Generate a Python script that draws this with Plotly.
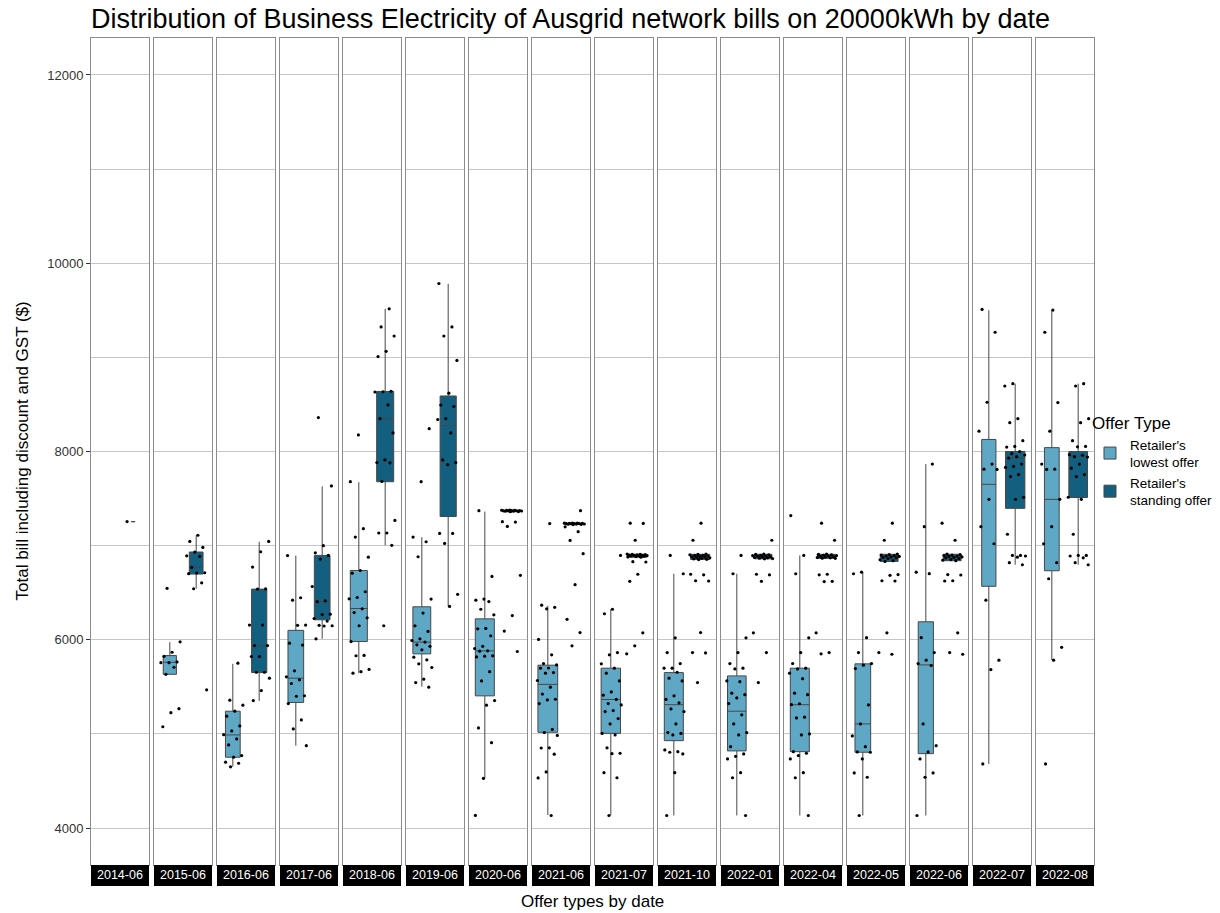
import math
import plotly.graph_objects as go
from plotly.subplots import make_subplots

# Facet labels (offer dates)
dates = ["2014-06", "2015-06", "2016-06", "2017-06", "2018-06", "2019-06",
         "2020-06", "2021-06", "2021-07", "2021-10", "2022-01", "2022-04",
         "2022-05", "2022-06", "2022-07", "2022-08"]

# Box statistics for "Retailer's lowest offer" (None where no offers exist)
lowest_lo = [None, 5633, 4652, 4875, 5645, 5502, 4527, 4138, 4133, 4133, 4133, 4133, 4133, 4133, 4681, 5783]
lowest_q1 = [None, 5633, 4752, 5334, 5981, 5850, 5404, 5017, 5005, 4928, 4819, 4811, 4805, 4790, 6568, 6733]
lowest_med = [None, 5761, 4989, 5592, 6332, 5975, 5882, 5526, 5366, 5310, 5241, 5310, 5106, 5733, 7651, 7492]
lowest_q3 = [None, 5832, 5241, 6100, 6736, 6350, 6222, 5730, 5698, 5651, 5616, 5698, 5744, 6191, 8128, 8041]
lowest_hi = [None, 5974, 5744, 6894, 7674, 7090, 7362, 6361, 6324, 6701, 6701, 6896, 6718, 7866, 9500, 9500]

# Box statistics for "Retailer's standing offer"
standing_lo = [7255, 6542, 5350, 6010, 7003, 6354, 7360, 7222, 6874, 6848, 6855, 6860, 6826, 6836, 6797, 6797]
standing_q1 = [7255, 6698, 5651, 6212, 7679, 7309, 7365, 7226, 6877, 6852, 6860, 6865, 6832, 6840, 7396, 7511]
standing_med = [7255, 6768, 5938, 6405, 8349, 8275, 7371, 7233, 6895, 6882, 6885, 6885, 6880, 6882, 7928, 7950]
standing_q3 = [7255, 6932, 6538, 6896, 8638, 8590, 7376, 7238, 6908, 6908, 6908, 6908, 6908, 6908, 8000, 8000]
standing_hi = [7255, 7108, 7041, 7630, 9516, 9782, 7380, 7242, 6912, 6912, 6912, 6912, 6912, 6912, 8721, 8721]

# Individual bills ($) per date, lowest offers
lowest_bills = [
    [],
    [6546, 5978, 5867, 5824, 5764, 5757, 5757, 5708, 5633, 5268, 5225, 5076],
    [5751, 5358, 5305, 5241, 5188, 5085, 5031, 4992, 4946, 4883, 4769, 4752, 4699, 4688, 4650],
    [6894, 6446, 6421, 6156, 6153, 5964, 5943, 5670, 5606, 5574, 5535, 5405, 5400, 5322, 5148, 5053, 4875],
    [8176, 7679, 7180, 7091, 6877, 6736, 6707, 6510, 6449, 6435, 6329, 6289, 6233, 6149, 5981, 5834,
     5830, 5685, 5661, 5645],
    [8243, 7679, 7091, 7041, 6882, 6432, 6283, 6148, 6088, 6010, 5992, 5975, 5946, 5930, 5893, 5815,
     5787, 5744, 5705, 5581, 5545, 5496],
    [7371, 6673, 6432, 6420, 6406, 6324, 6265, 6120, 6116, 6042, 5930, 5907, 5882, 5879, 5829, 5826,
     5818, 5661, 5563, 5354, 5305, 5063, 4907, 4527, 4134],
    [7234, 6367, 6345, 6329, 6003, 5840, 5747, 5733, 5700, 5698, 5651, 5645, 5567, 5496, 5423, 5368,
     5361, 5322, 5047, 5014, 4984, 4852, 4850, 4784, 4596, 4532, 4133],
    [6896, 6324, 6276, 5864, 5840, 5744, 5698, 5645, 5563, 5446, 5411, 5366, 5322, 5308, 5248, 5237,
     5163, 5106, 5005, 4989, 4852, 4794, 4790, 4588, 4534, 4133],
    [6896, 6701, 6020, 5864, 5747, 5698, 5698, 5655, 5592, 5563, 5404, 5366, 5330, 5265, 5237, 5106,
     5014, 5005, 4989, 4830, 4811, 4805, 4787, 4588, 4133],
    [6896, 6701, 6020, 5864, 5747, 5698, 5690, 5563, 5555, 5432, 5416, 5382, 5322, 5202, 5106, 5014,
     4989, 4864, 4787, 4762, 4734, 4588, 4534, 4133],
    [7319, 6896, 6701, 6020, 5864, 5747, 5698, 5690, 5645, 5587, 5432, 5416, 5320, 5310, 5178, 5170,
     5000, 4989, 4811, 4794, 4770, 4734, 4588, 4534, 4133],
    [6718, 6701, 6022, 5864, 5747, 5730, 5694, 5308, 5106, 4978, 4864, 4808, 4805, 4734, 4585, 4539, 4133],
    [7866, 7201, 6718, 6702, 6022, 5864, 5783, 5747, 5726, 5106, 4875, 4808, 4734, 4585, 4539, 4133],
    [9509, 9267, 8523, 8216, 7866, 7812, 7810, 7492, 7201, 7020, 6421, 5783, 5683, 4681],
    [9503, 9267, 8520, 8216, 7866, 7812, 7810, 7492, 7201, 7020, 6819, 6648, 5920, 5783, 4681],
]

# Individual bills ($) per date, standing offers
standing_bills = [
    [7255],
    [7110, 7045, 6981, 6932, 6892, 6885, 6768, 6712, 6709, 6702, 6605, 6542, 5468],
    [7045, 6935, 6772, 6540, 6538, 6156, 6156, 5938, 5938, 5822, 5822, 5655, 5655, 5592, 5460, 5354],
    [8360, 7634, 6999, 6924, 6896, 6857, 6566, 6414, 6405, 6272, 6268, 6226, 6198, 6153, 6149, 6146, 6010],
    [9516, 9324, 9227, 9064, 9008, 8640, 8635, 8632, 8495, 8349, 8197, 7910, 7882, 7880, 7682, 7268,
     7134, 7134, 7003, 6149],
    [9785, 9324, 9227, 8968, 8620, 8493, 8478, 8349, 8340, 8197, 7910, 7882, 7860, 7130, 7130, 7023,
     6483, 6354],
    [7378, 7376, 7375, 7374, 7372, 7371, 7370, 7370, 7369, 7368, 7366, 7365, 7362, 7360, 7254, 7250,
     7204, 6684, 6257, 6092, 5875],
    [7371, 7240, 7239, 7238, 7237, 7236, 7235, 7234, 7233, 7232, 7230, 7229, 7227, 7226, 7224, 7200,
     7148, 7055, 6914, 6585, 6217, 6076, 5935],
    [7238, 7236, 7057, 6910, 6908, 6906, 6904, 6902, 6900, 6898, 6896, 6894, 6892, 6890, 6888, 6884,
     6880, 6877, 6829, 6826, 6696, 6621, 6074, 5935, 5850],
    [7238, 7057, 6910, 6906, 6902, 6898, 6894, 6890, 6886, 6882, 6878, 6874, 6870, 6866, 6860, 6855,
     6852, 6696, 6690, 6627, 6624, 6076, 5864, 5860, 5545],
    [7057, 6910, 6906, 6902, 6898, 6894, 6890, 6886, 6882, 6878, 6874, 6870, 6866, 6862, 6860, 6696,
     6690, 6621, 6074, 5864, 5545],
    [7238, 7057, 6910, 6906, 6902, 6898, 6894, 6890, 6886, 6882, 6878, 6874, 6870, 6866, 6865, 6696,
     6690, 6621, 6618, 6074, 5864, 5850],
    [7238, 7057, 6910, 6905, 6900, 6895, 6890, 6885, 6880, 6875, 6870, 6862, 6850, 6840, 6832, 6692,
     6685, 6627, 6624, 6074, 5864, 5846],
    [7238, 7057, 6910, 6905, 6900, 6895, 6890, 6885, 6880, 6875, 6870, 6862, 6852, 6845, 6840, 6692,
     6688, 6627, 6624, 6074, 5864, 5846],
    [8721, 8696, 8349, 8306, 8115, 8054, 8047, 8000, 7977, 7963, 7945, 7930, 7866, 7841, 7831, 7755,
     7734, 7514, 7492, 7121, 6896, 6896, 6890, 6877, 6819, 6797],
    [8721, 8696, 8349, 8306, 8115, 8054, 8050, 7966, 7960, 7945, 7941, 7866, 7823, 7755, 7734, 7514,
     7492, 7121, 6896, 6896, 6890, 6870, 6819, 6797],
]

offer_names = ["Retailer's<br>lowest offer", "Retailer's<br>standing offer"]
y_ticks = [4000, 6000, 8000, 10000, 12000]
y_minor = [5000, 7000, 9000, 11000]

LIGHT = "#5ea8c6"
DARK = "#135f7f"
GRID = "#c6c6c6"
BORDER = "#8c8c8c"
FONT = "Liberation Sans, Arial, sans-serif"

W, H = 1220, 913
ML, MR, MT, MB = 91, 126, 38, 48
plot_w = W - ML - MR
plot_h = H - MT - MB
n_facets = len(dates)

fig = make_subplots(rows=1, cols=n_facets, shared_yaxes=True,
                    horizontal_spacing=5 / plot_w)

n_max = max(len(p) for p in lowest_bills + standing_bills)

groups = [
    (0, offer_names[0], LIGHT, lowest_lo, lowest_q1, lowest_med, lowest_q3, lowest_hi, lowest_bills),
    (1, offer_names[1], DARK, standing_lo, standing_q1, standing_med, standing_q3, standing_hi, standing_bills),
]

# Boxes (box width grows with the square root of the number of offers)
for i in range(n_facets):
    for pos, name, color, lo, q1, med, q3, hi, bills in groups:
        pts = bills[i]
        if not pts:
            continue
        fig.add_trace(go.Box(
            x=[pos], lowerfence=[lo[i]], q1=[q1[i]], median=[med[i]], q3=[q3[i]],
            upperfence=[hi[i]], width=0.75 * math.sqrt(len(pts) / n_max),
            fillcolor=color, line=dict(color="#474747", width=1), whiskerwidth=0,
            boxpoints=False, name=name, legendgroup=name,
            showlegend=(i == 1), hoverinfo="skip",
        ), row=1, col=i + 1)

# Jittered offer points on top of the boxes
golden = 0.6180339887
for i in range(n_facets):
    for pos, name, color, lo, q1, med, q3, hi, bills in groups:
        pts = bills[i]
        if not pts:
            continue
        phase = (i * 0.37 + pos * 0.21) % 1
        xs = [pos + (((k * golden + phase) % 1) - 0.5) * 0.8 for k in range(len(pts))]
        fig.add_trace(go.Scatter(
            x=xs, y=pts, mode="markers",
            marker=dict(color="black", size=3.2),
            showlegend=False, hoverinfo="skip", legendgroup=name,
        ), row=1, col=i + 1)

fig.update_xaxes(range=[-0.6, 1.6], showticklabels=False, ticks="", showgrid=False,
                 zeroline=False, showline=True, mirror=True, linecolor=BORDER,
                 linewidth=1, fixedrange=True)
fig.update_yaxes(range=[3607, 12393], tickvals=y_ticks, tickformat="d", showgrid=True,
                 gridcolor=GRID, gridwidth=1, zeroline=False, showline=True, mirror=True,
                 linecolor=BORDER, linewidth=1, ticks="", showticklabels=False,
                 minor=dict(tickvals=y_minor, showgrid=True, gridcolor=GRID, gridwidth=1),
                 fixedrange=True)
fig.update_yaxes(ticks="outside", ticklen=4, tickcolor="#333333", showticklabels=True,
                 tickfont=dict(size=13, color="#333333"), row=1, col=1)

# Facet strips along the bottom
strip_h = 21 / plot_h
for i, d in enumerate(dates):
    ref = "x domain" if i == 0 else f"x{i + 1} domain"
    fig.add_shape(type="rect", xref=ref, yref="paper", x0=0, x1=1, y0=-strip_h, y1=0,
                  fillcolor="black", line=dict(width=0))
    fig.add_annotation(text=d, xref=ref, yref="paper", x=0.5, y=-strip_h / 2,
                       showarrow=False, font=dict(color="white", size=12.5, family=FONT),
                       xanchor="center", yanchor="middle")

# Axis titles
fig.add_annotation(text="Total bill including discount and GST ($)", xref="paper", yref="paper",
                   x=-69 / plot_w, y=0.5, textangle=-90, showarrow=False,
                   font=dict(size=17, color="black", family=FONT),
                   xanchor="center", yanchor="middle")
fig.add_annotation(text="Offer types by date", xref="paper", yref="paper",
                   x=0.5, y=-36 / plot_h, showarrow=False,
                   font=dict(size=17, color="black", family=FONT),
                   xanchor="center", yanchor="middle")

fig.update_layout(
    width=W, height=H,
    margin=dict(l=ML, r=MR, t=MT, b=MB, autoexpand=False),
    paper_bgcolor="white", plot_bgcolor="white",
    font=dict(family=FONT, color="black"),
    title=dict(text="Distribution of Business Electricity of Ausgrid network bills on 20000kWh by date",
               x=ML / W, xanchor="left", y=1 - 19 / H, yanchor="middle",
               font=dict(size=27, color="black", family=FONT)),
    legend=dict(title=dict(text="Offer Type", font=dict(size=17)),
                font=dict(size=13.5), x=0.996, xanchor="left", y=0.488, yanchor="middle",
                bgcolor="rgba(0,0,0,0)", tracegroupgap=0),
    boxmode="overlay",
)

fig.write_html("out.html")
